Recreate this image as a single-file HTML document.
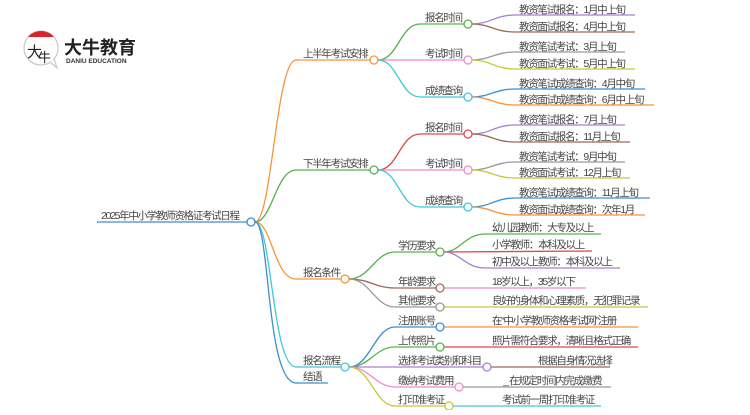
<!DOCTYPE html>
<html><head><meta charset="utf-8"><style>
body{margin:0;background:#fff;width:750px;height:410px;overflow:hidden}
svg text{font-family:"Liberation Sans","Noto Sans CJK SC",sans-serif;font-size:10.5px;letter-spacing:-1.3px;fill:#444}
</style></head><body>
<svg width="750" height="410" viewBox="0 0 750 410" xmlns="http://www.w3.org/2000/svg" fill="none" stroke-width="1.3">
<!-- logo -->
<circle cx="41" cy="48" r="17" stroke="#ccc" fill="#fff"/>
<path d="M28,37 A17,17 0 0 1 54,37 Z" fill="#d9232d" stroke="none"/>
<path d="M50,62 L57,68 L54,59" stroke="#ccc" fill="#fff"/>
<text x="27" y="57" style="font-size:15px;letter-spacing:0;fill:#222">大</text>
<text x="38" y="62" style="font-size:13px;letter-spacing:0;fill:#222">牛</text>
<text x="64" y="54" style="font-size:18px;letter-spacing:0;font-weight:bold;fill:#222">大牛教育</text>
<text x="66" y="63" style="font-size:6.5px;letter-spacing:0;font-weight:bold;fill:#333">DANIU EDUCATION</text>

<!-- root -->
<path d="M97,222 L247,222" stroke="#3b8fd0"/>
<text x="101" y="219">2025年中小学教师资格证考试日程</text>
<path d="M255,222 C272,222 276,60 296,60 L370,60" stroke="#f7943a"/>
<path d="M255,222 C272,222 276,170 296,170 L370,170" stroke="#55b34a"/>
<path d="M255,222 C272,222 274,279 296,279 L341,279" stroke="#f7943a"/>
<path d="M255,222 C272,222 272,367 296,367 L341,367" stroke="#3fc8dc"/>
<path d="M255,222 C270,222 266,383 296,383 L328,383" stroke="#3b8fd0"/>
<circle cx="251" cy="222" r="4" stroke="#3b8fd0" fill="#fff"/>
<text x="303" y="57">上半年考试安排</text>
<text x="303" y="167">下半年考试安排</text>
<text x="303" y="276">报名条件</text>
<text x="303" y="364">报名流程</text>
<text x="303" y="380">结语</text>

<!-- branch 1 -->
<path d="M378,60 C398,60 400,24 420,24 L464,24" stroke="#55b34a"/>
<path d="M378,60 L464,60" stroke="#f08ac8"/>
<path d="M378,60 C398,60 400,97 420,97 L464,97" stroke="#3fc8dc"/>
<circle cx="374" cy="60" r="4" stroke="#f7943a" fill="#fff"/>
<text x="425" y="21">报名时间</text><text x="425" y="57">考试时间</text><text x="425" y="94">成绩查询</text>
<path d="M472,24 C490,24 495,15 515,15 L635,15" stroke="#a67fd6"/>
<path d="M472,24 C490,24 495,32 515,32 L635,32" stroke="#9a6a5a"/>
<path d="M472,60 C490,60 495,52 515,52 L625,52" stroke="#999"/>
<path d="M472,60 C490,60 495,69 515,69 L635,69" stroke="#c8c83a"/>
<path d="M472,97 C490,97 495,89 515,89 L645,89" stroke="#3b8fd0"/>
<path d="M472,97 C490,97 495,105 515,105 L654,105" stroke="#f7943a"/>
<circle cx="468" cy="24" r="4" stroke="#55b34a" fill="#fff"/>
<circle cx="468" cy="60" r="4" stroke="#f08ac8" fill="#fff"/>
<circle cx="468" cy="97" r="4" stroke="#3fc8dc" fill="#fff"/>
<text x="519" y="13">教资笔试报名：1月中上旬</text>
<text x="519" y="30">教资面试报名：4月中上旬</text>
<text x="519" y="50">教资笔试考试：3月上旬</text>
<text x="519" y="67">教资面试考试：5月中上旬</text>
<text x="519" y="87">教资笔试成绩查询：4月中旬</text>
<text x="519" y="103">教资面试成绩查询：6月中上旬</text>

<!-- branch 2 -->
<path d="M378,170 C398,170 400,134 420,134 L464,134" stroke="#e04848"/>
<path d="M378,170 L464,170" stroke="#f08ac8"/>
<path d="M378,170 C398,170 400,207 420,207 L464,207" stroke="#3fc8dc"/>
<circle cx="374" cy="170" r="4" stroke="#55b34a" fill="#fff"/>
<text x="425" y="131">报名时间</text><text x="425" y="167">考试时间</text><text x="425" y="204">成绩查询</text>
<path d="M472,134 C490,134 495,125 515,125 L625,125" stroke="#a67fd6"/>
<path d="M472,134 C490,134 495,142 515,142 L630,142" stroke="#9a6a5a"/>
<path d="M472,170 C490,170 495,162 515,162 L625,162" stroke="#999"/>
<path d="M472,170 C490,170 495,178 515,178 L630,178" stroke="#c8c83a"/>
<path d="M472,207 C490,207 495,198 515,198 L650,198" stroke="#3b8fd0"/>
<path d="M472,207 C490,207 495,215 515,215 L645,215" stroke="#f7943a"/>
<circle cx="468" cy="134" r="4" stroke="#e04848" fill="#fff"/>
<circle cx="468" cy="170" r="4" stroke="#f08ac8" fill="#fff"/>
<circle cx="468" cy="207" r="4" stroke="#3fc8dc" fill="#fff"/>
<text x="519" y="123">教资笔试报名：7月上旬</text>
<text x="519" y="140">教资面试报名：11月上旬</text>
<text x="519" y="160">教资笔试考试：9月中旬</text>
<text x="519" y="176">教资面试考试：12月上旬</text>
<text x="519" y="196">教资笔试成绩查询：11月上旬</text>
<text x="519" y="213">教资面试成绩查询：次年1月</text>

<!-- branch 3 -->
<path d="M349,279 C370,279 375,252 395,252 L436,252" stroke="#55b34a"/>
<path d="M349,279 C370,279 375,288 395,288 L436,288" stroke="#9a6a5a"/>
<path d="M349,279 C370,279 375,307 395,307 L436,307" stroke="#999"/>
<circle cx="345" cy="279" r="4" stroke="#f7943a" fill="#fff"/>
<text x="398" y="249">学历要求</text><text x="398" y="285">年龄要求</text><text x="398" y="304">其他要求</text>
<path d="M444,252 C460,252 465,234 485,234 L601,234" stroke="#55b34a"/>
<path d="M444,252 L592,251" stroke="#e04848"/>
<path d="M444,252 C460,252 465,268 485,268 L620,268" stroke="#a67fd6"/>
<path d="M444,288 L586,288" stroke="#f08ac8"/>
<path d="M444,307 L648,307" stroke="#c8c83a"/>
<circle cx="440" cy="252" r="4" stroke="#55b34a" fill="#fff"/>
<circle cx="440" cy="288" r="4" stroke="#9a6a5a" fill="#fff"/>
<circle cx="440" cy="307" r="4" stroke="#999" fill="#fff"/>
<text x="492" y="231">幼儿园教师：大专及以上</text>
<text x="492" y="248">小学教师：本科及以上</text>
<text x="492" y="265">初中及以上教师：本科及以上</text>
<text x="492" y="285">18岁以上，35岁以下</text>
<text x="492" y="304">良好的身体和心理素质，无犯罪记录</text>

<!-- branch 4 -->
<path d="M349,367 C370,367 375,327 395,327 L436,327" stroke="#3b8fd0"/>
<path d="M349,367 C370,367 375,347 395,347 L436,347" stroke="#55b34a"/>
<path d="M349,367 L483,367" stroke="#a67fd6"/>
<path d="M349,367 C370,367 375,387 395,387 L455,387" stroke="#f08ac8"/>
<path d="M349,367 C370,367 375,406 395,406 L445,406" stroke="#c8c83a"/>
<circle cx="345" cy="367" r="4" stroke="#3fc8dc" fill="#fff"/>
<text x="398" y="324">注册账号</text><text x="398" y="344">上传照片</text><text x="398" y="364">选择考试类别和科目</text>
<text x="398" y="384">缴纳考试费用</text><text x="398" y="403">打印准考证</text>
<path d="M444,327 L638,327" stroke="#f7943a"/>
<path d="M444,347 L638,347" stroke="#e04848"/>
<path d="M491,367 L610,367" stroke="#9a6a5a"/>
<path d="M463,387 L611,387" stroke="#999"/>
<path d="M453,406 L601,406" stroke="#3fc8dc"/>
<circle cx="440" cy="327" r="4" stroke="#3b8fd0" fill="#fff"/>
<circle cx="440" cy="347" r="4" stroke="#55b34a" fill="#fff"/>
<circle cx="487" cy="367" r="4" stroke="#a67fd6" fill="#fff"/>
<circle cx="459" cy="387" r="4" stroke="#f08ac8" fill="#fff"/>
<circle cx="449" cy="406" r="4" stroke="#c8c83a" fill="#fff"/>
<text x="492" y="324">在“中小学教师资格考试网”注册</text>
<text x="492" y="344">照片需符合要求，清晰且格式正确</text>
<text x="538" y="364">根据自身情况选择</text>
<text x="503" y="384">_ 在规定时间内完成缴费</text>
<text x="502" y="403">考试前一周打印准考证</text>
</svg>
</body></html>
